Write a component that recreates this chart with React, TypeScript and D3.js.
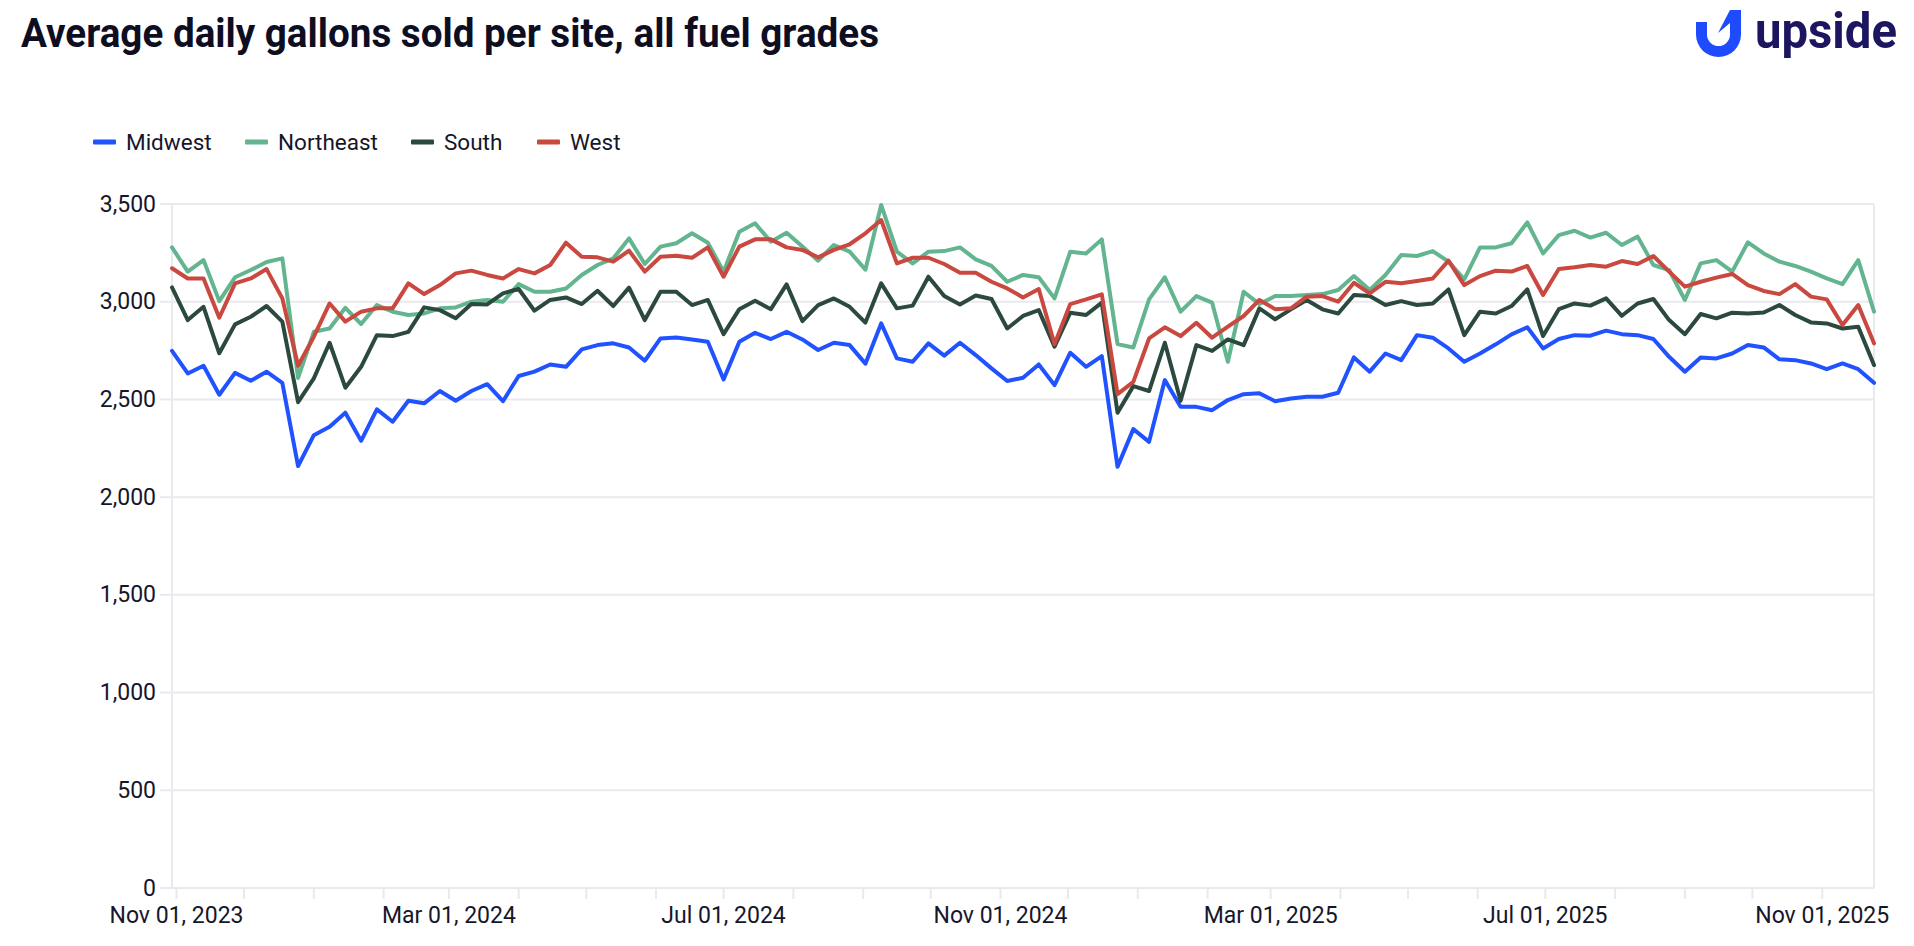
import React, { useEffect } from "react";
import * as d3 from "d3";

const W = 1914;
const H = 946;

const seriesNames = ["Midwest", "Northeast", "South", "West"];
const seriesColors = ["#2152ff", "#62b58f", "#2b4a3d", "#c94840"];

const firstWeek = "2023-10-30";
const lastWeek = "2025-11-24";

const midwest = [
  2748, 2633, 2672, 2524, 2636, 2596, 2642, 2585, 2159, 2317, 2360, 2432, 2288, 2449, 2386, 2493,
  2480, 2543, 2493, 2543, 2578, 2491, 2620, 2642, 2679, 2667, 2756, 2778, 2787, 2766, 2698, 2812,
  2817, 2807, 2795, 2602, 2795, 2841, 2809, 2846, 2807, 2753, 2790, 2778, 2683, 2889, 2710, 2693,
  2787, 2724, 2790, 2727, 2659, 2594, 2611, 2679, 2573, 2739, 2667, 2722, 2155, 2348, 2283, 2599,
  2462, 2462, 2445, 2497, 2527, 2531, 2491, 2505, 2514, 2514, 2534, 2715, 2642, 2735, 2701, 2829,
  2816, 2761, 2693, 2735, 2782, 2833, 2869, 2761, 2809, 2829, 2826, 2852, 2834, 2829, 2809, 2718,
  2642, 2715, 2710, 2735, 2778, 2766, 2705, 2701, 2684, 2655, 2684, 2655, 2585,
];

const northeast = [
  3278, 3154, 3213, 3003, 3125, 3162, 3203, 3222, 2610, 2846, 2863, 2969, 2886, 2983, 2949, 2932,
  2940, 2966, 2971, 3000, 3009, 3000, 3090, 3051, 3051, 3068, 3137, 3188, 3222, 3324, 3193, 3282,
  3299, 3350, 3302, 3154, 3358, 3401, 3307, 3353, 3282, 3210, 3290, 3256, 3164, 3495, 3256, 3196,
  3256, 3259, 3278, 3217, 3183, 3102, 3137, 3125, 3017, 3256, 3247, 3319, 2783, 2766, 3012, 3125,
  2949, 3029, 2995, 2693, 3051, 2988, 3029, 3029, 3034, 3039, 3060, 3131, 3060, 3137, 3239, 3234,
  3259, 3205, 3114, 3278, 3278, 3299, 3406, 3247, 3341, 3363, 3328, 3353, 3290, 3333, 3188, 3162,
  3009, 3196, 3213, 3154, 3304, 3247, 3205, 3183, 3154, 3119, 3090, 3213, 2949,
];

const south = [
  3073, 2906, 2974, 2736, 2884, 2923, 2978, 2898, 2486, 2608, 2790, 2560, 2667, 2829, 2824, 2846,
  2971, 2957, 2915, 2988, 2986, 3043, 3065, 2954, 3009, 3022, 2988, 3056, 2978, 3072, 2906, 3051,
  3051, 2983, 3009, 2834, 2962, 3005, 2962, 3089, 2901, 2983, 3017, 2974, 2893, 3094, 2966, 2980,
  3128, 3029, 2986, 3032, 3014, 2863, 2927, 2957, 2770, 2944, 2932, 2995, 2432, 2568, 2543, 2790,
  2493, 2778, 2748, 2807, 2778, 2966, 2910, 2961, 3009, 2961, 2940, 3034, 3029, 2983, 3003, 2983,
  2991, 3063, 2829, 2949, 2940, 2978, 3063, 2824, 2962, 2991, 2980, 3017, 2928, 2991, 3014, 2906,
  2834, 2937, 2915, 2944, 2940, 2945, 2983, 2932, 2894, 2889, 2863, 2872, 2676,
];

const west = [
  3171, 3119, 3119, 2918, 3094, 3119, 3167, 3017, 2672, 2821, 2991, 2898, 2949, 2966, 2966, 3094,
  3039, 3085, 3145, 3159, 3137, 3119, 3167, 3145, 3188, 3302, 3230, 3227, 3205, 3261, 3154, 3230,
  3235, 3225, 3278, 3128, 3282, 3319, 3319, 3278, 3265, 3227, 3265, 3294, 3350, 3418, 3196, 3225,
  3225, 3193, 3148, 3148, 3102, 3068, 3022, 3065, 2783, 2988, 3012, 3038, 2527, 2590, 2812, 2869,
  2824, 2892, 2816, 2872, 2927, 3009, 2962, 2966, 3026, 3029, 3000, 3097, 3043, 3102, 3094, 3106,
  3119, 3210, 3085, 3131, 3159, 3154, 3183, 3034, 3167, 3176, 3188, 3179, 3208, 3193, 3234, 3154,
  3077, 3102, 3123, 3142, 3085, 3055, 3039, 3090, 3026, 3012, 2881, 2983, 2787,
];

const yTicks = [0, 500, 1000, 1500, 2000, 2500, 3000, 3500];
const seriesValues = [midwest, northeast, south, west];

const FONT = "Roboto, 'Noto Sans', sans-serif";

export default function App() {
  useEffect(() => {
    document.body.style.margin = "0";
  }, []);

  const start = new Date(firstWeek + "T00:00:00Z");
  const end = new Date(lastWeek + "T00:00:00Z");
  const weeks = d3.utcMonday.range(start, d3.utcDay.offset(end, 1));

  const plotLeft = 172;
  const plotRight = 1874;
  const plotTop = 204;
  const plotBottom = 888;

  const x = d3.scaleUtc().domain([start, end]).range([plotLeft, plotRight]);
  const y = d3.scaleLinear().domain([0, 3500]).range([plotBottom, plotTop]);

  const monthTicks = d3.utcMonth.range(new Date("2023-11-01T00:00:00Z"), new Date("2025-11-02T00:00:00Z"));
  const fmtDate = d3.utcFormat("%b %d, %Y");
  const fmtNum = d3.format(",");

  const line = d3
    .line<number>()
    .x((_, i) => x(weeks[i]))
    .y((v) => y(v));

  const gridColor = "#e9e9f0";
  const textColor = "#16162b";

  const legendX = [93, 245, 411, 537];

  return (
    <svg
      width={W}
      height={H}
      style={{ position: "absolute", left: 0, top: 0, background: "#fff" }}
      xmlns="http://www.w3.org/2000/svg"
    >
      <rect x={0} y={0} width={W} height={H} fill="#fff" />
      <text
        x={21}
        y={47}
        fontFamily={FONT}
        fontWeight={700}
        fontSize={41}
        fill="#0e0e22"
        textLength={858}
        lengthAdjust="spacingAndGlyphs"
      >
        Average daily gallons sold per site, all fuel grades
      </text>

      {/* logo */}
      <g fill="#1f4bff">
        <path d="M1696,22 L1707,22 L1707,34.5 A11.5,11.5 0 0 0 1730,34.5 L1730,27 L1741,27 L1741,34.5 A22.5,22.5 0 0 1 1696,34.5 Z" />
        <path d="M1730,10 L1741,10 L1741,30 L1730,30 L1730,23 L1718,33 Z" />
      </g>
      <text
        x={1755}
        y={48}
        fontFamily={FONT}
        fontWeight={700}
        fontSize={50}
        fill="#1c1660"
        textLength={142}
        lengthAdjust="spacingAndGlyphs"
      >
        upside
      </text>

      {/* legend */}
      {seriesNames.map((name, i) => (
        <g key={name}>
          <rect x={legendX[i]} y={139.5} width={23} height={5} rx={1} fill={seriesColors[i]} />
          <text
            x={legendX[i] + 33}
            y={142}
            dominantBaseline="central"
            fontFamily={FONT}
            fontSize={22.5}
            fill={textColor}
          >
            {name}
          </text>
        </g>
      ))}

      {/* grid */}
      {yTicks.map((t) => (
        <g key={t}>
          <line x1={plotLeft} x2={plotRight} y1={y(t)} y2={y(t)} stroke={gridColor} strokeWidth={2} />
          <line x1={plotLeft - 12} x2={plotLeft} y1={y(t)} y2={y(t)} stroke={gridColor} strokeWidth={2} />
          <text
            x={156}
            y={y(t)}
            textAnchor="end"
            dominantBaseline="central"
            fontFamily={FONT}
            fontSize={23}
            fill={textColor}
          >
            {fmtNum(t)}
          </text>
        </g>
      ))}
      <line x1={plotLeft} x2={plotLeft} y1={plotTop} y2={plotBottom} stroke={gridColor} strokeWidth={2} />
      <line x1={plotRight} x2={plotRight} y1={plotTop} y2={plotBottom} stroke={gridColor} strokeWidth={2} />

      {monthTicks.map((m, i) => (
        <g key={m.toISOString()}>
          <line x1={x(m)} x2={x(m)} y1={plotBottom} y2={plotBottom + 11} stroke={gridColor} strokeWidth={2} />
          {i % 4 === 0 && (
            <text
              x={x(m)}
              y={923}
              textAnchor="middle"
              fontFamily={FONT}
              fontSize={23}
              fill={textColor}
            >
              {fmtDate(m)}
            </text>
          )}
        </g>
      ))}

      {/* lines */}
      {seriesValues.map((vals, i) => (
        <path
          key={seriesNames[i]}
          d={line(vals) || ""}
          fill="none"
          stroke={seriesColors[i]}
          strokeWidth={4}
          strokeLinejoin="round"
          strokeLinecap="round"
        />
      ))}
    </svg>
  );
}
